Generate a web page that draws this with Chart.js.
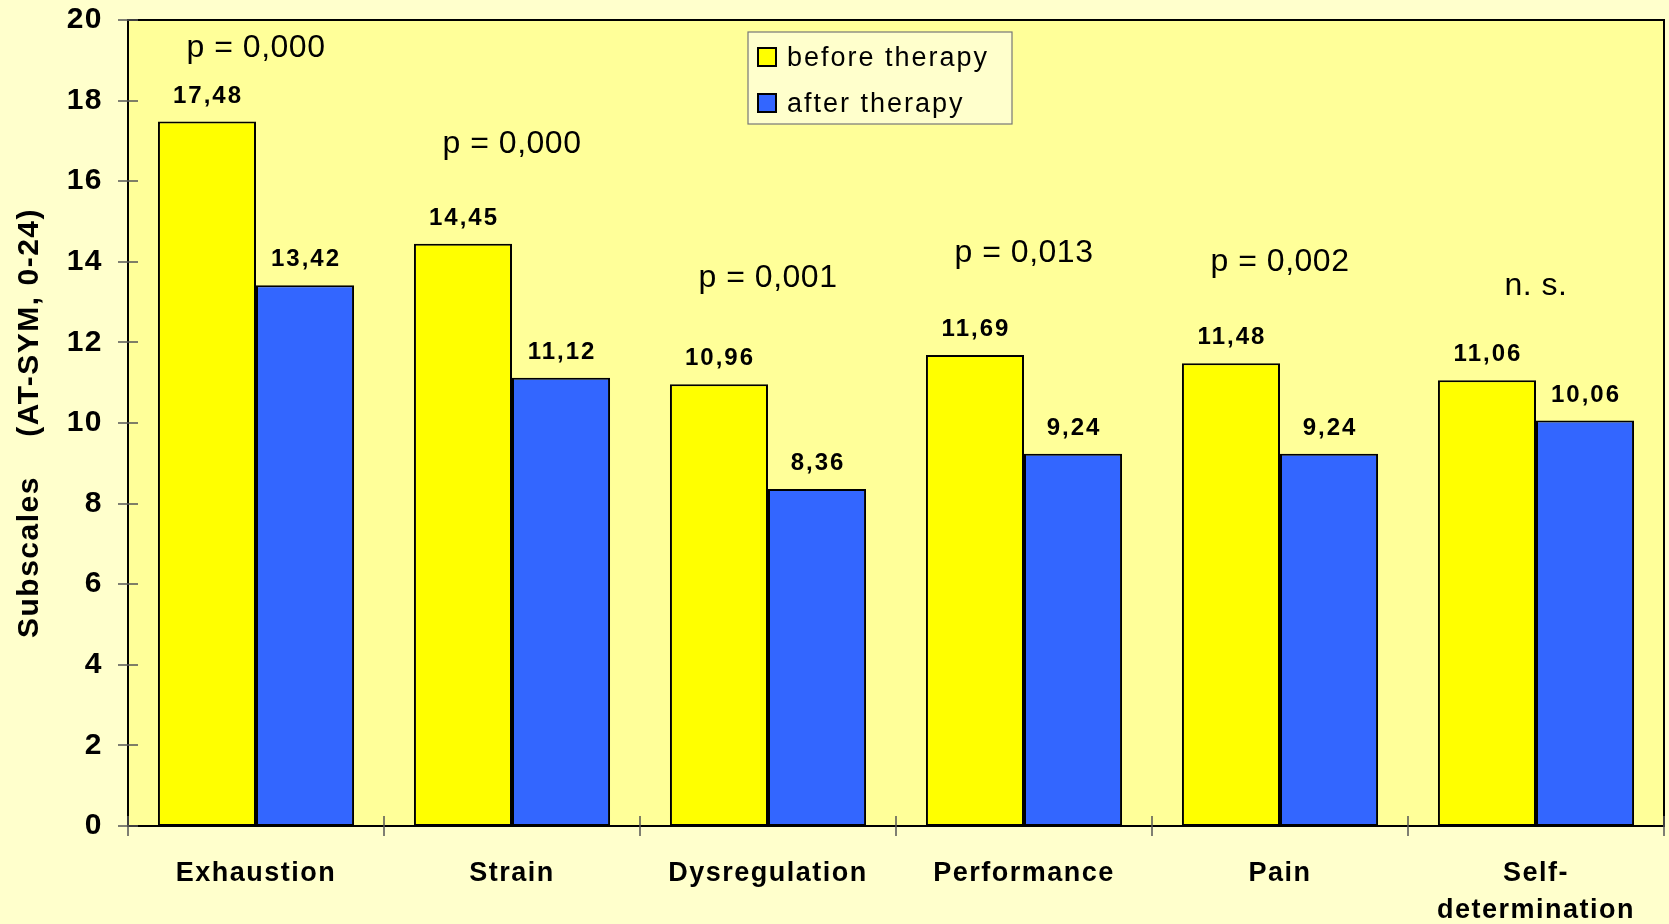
<!DOCTYPE html>
<html>
<head>
<meta charset="utf-8">
<title>AT-SYM subscales</title>
<script src="https://cdn.jsdelivr.net/npm/chart.js@4"></script>
<style>
  body { margin: 0; background: #FFFFCC; }
  #wrap { width: 1669px; height: 924px; }
</style>
</head>
<body>
<div id="wrap"><canvas id="subscalesChart"></canvas></div>
<script>
// Données
const categories = ['Exhaustion', 'Strain', 'Dysregulation', 'Performance', 'Pain', ['Self-', 'determination']];
const beforeTherapy = [17.48, 14.45, 10.96, 11.69, 11.48, 11.06];
const afterTherapy = [13.42, 11.12, 8.36, 9.24, 9.24, 10.06];
const pValues = ['p = 0,000', 'p = 0,000', 'p = 0,001', 'p = 0,013', 'p = 0,002', 'n. s.'];
const pHeights = [19.07, 16.71, 13.37, 14.0, 13.78, 13.18];
const yTicks = [0, 2, 4, 6, 8, 10, 12, 14, 16, 18, 20];

const FONT = "'Liberation Sans', Arial, sans-serif";

// fond de la page + zone du graphique
const fondPlugin = {
    id: 'fond',
    beforeDraw(chart) {
        const { ctx, chartArea: a } = chart;
        ctx.save();
        ctx.fillStyle = '#FFFFCC';
        ctx.fillRect(0, 0, chart.width, chart.height);
        ctx.fillStyle = '#FFFF99';
        ctx.fillRect(a.left, a.top, a.right - a.left, a.bottom - a.top);
        ctx.restore();
        ctx.letterSpacing = '1.5px';
    },
    beforeDatasetsDraw(chart) {
        chart.ctx.letterSpacing = '0px';
    },
    afterDraw(chart) {
        chart.ctx.letterSpacing = '0px';
    }
};

// cadre, graduations, valeurs, p-values et légende
const decorPlugin = {
    id: 'decor',
    afterDatasetsDraw(chart) {
        const { ctx, chartArea: a } = chart;
        const xs = chart.scales.x, ys = chart.scales.y;
        ctx.save();

        // cadre noir
        ctx.strokeStyle = '#000';
        ctx.lineWidth = 2;
        ctx.strokeRect(a.left, a.top, a.right - a.left, a.bottom - a.top);

        // petites graduations qui traversent les axes
        ctx.strokeStyle = '#555';
        ctx.lineWidth = 1.5;
        ctx.beginPath();
        ys.ticks.forEach(t => {
            const py = Math.round(ys.getPixelForValue(t.value));
            ctx.moveTo(a.left - 10, py);
            ctx.lineTo(a.left + 10, py);
        });
        for (let i = 0; i <= categories.length; i++) {
            const px = Math.round(xs.getPixelForValue(i - 0.5));
            ctx.moveTo(px, a.bottom - 10);
            ctx.lineTo(px, a.bottom + 10);
        }
        ctx.stroke();

        // valeurs au-dessus des barres
        ctx.fillStyle = '#000';
        ctx.font = 'bold 24px ' + FONT;
        ctx.letterSpacing = '2px';
        ctx.textAlign = 'center';
        ctx.textBaseline = 'alphabetic';
        chart.data.datasets.forEach((ds, di) => {
            chart.getDatasetMeta(di).data.forEach((bar, i) => {
                const txt = ds.data[i].toFixed(2).replace('.', ',');
                ctx.fillText(txt, bar.x + 1, bar.y - 19);
            });
        });

        // p-values
        ctx.font = '32px ' + FONT;
        ctx.letterSpacing = '0.5px';
        pValues.forEach((txt, i) => {
            ctx.fillText(txt, xs.getPixelForValue(i), ys.getPixelForValue(pHeights[i]));
        });

        // légende
        const lx = a.left + 620, ly = a.top + 12;
        ctx.fillStyle = '#FFFFCC';
        ctx.fillRect(lx, ly, 264, 92);
        ctx.strokeStyle = '#777';
        ctx.lineWidth = 1.2;
        ctx.strokeRect(lx, ly, 264, 92);
        ctx.font = '27px ' + FONT;
        ctx.letterSpacing = '2px';
        ctx.textAlign = 'left';
        chart.data.datasets.forEach((ds, di) => {
            const sy = ly + 16 + di * 46;
            ctx.fillStyle = ds.backgroundColor;
            ctx.fillRect(lx + 10, sy, 18, 18);
            ctx.strokeStyle = '#000';
            ctx.lineWidth = 2;
            ctx.strokeRect(lx + 10, sy, 18, 18);
            ctx.fillStyle = '#000';
            ctx.fillText(ds.label, lx + 39, sy + 18);
        });

        ctx.restore();
    }
};

const ctx = document.getElementById('subscalesChart').getContext('2d');
const subscalesChart = new Chart(ctx, {
    type: 'bar',
    data: {
        labels: categories,
        datasets: [{
            label: 'before therapy',
            data: beforeTherapy,
            backgroundColor: '#FFFF00',
            borderColor: '#000',
            borderWidth: 2,
            borderSkipped: false
        }, {
            label: 'after therapy',
            data: afterTherapy,
            backgroundColor: '#3366FF',
            borderColor: '#000',
            borderWidth: 2,
            borderSkipped: false
        }]
    },
    options: {
        responsive: true,
        maintainAspectRatio: false,
        animation: false,
        categoryPercentage: 0.766,
        barPercentage: 1.0,
        layout: { padding: { top: 20, right: 5, left: 0, bottom: 0 } },
        plugins: {
            legend: { display: false },
            tooltip: { enabled: false }
        },
        scales: {
            x: {
                grid: { display: false, drawTicks: false },
                border: { display: false },
                ticks: {
                    color: '#000',
                    font: { family: FONT, size: 27, weight: 'bold', lineHeight: 1.38 },
                    padding: 29,
                    maxRotation: 0,
                    autoSkip: false
                },
                afterFit(axis) { axis.height = 98; }
            },
            y: {
                min: 0,
                max: 20,
                grid: { display: false, drawTicks: false },
                border: { display: false },
                afterBuildTicks(axis) { axis.ticks = yTicks.map(v => ({ value: v })); },
                ticks: {
                    color: '#000',
                    font: { family: FONT, size: 30, weight: 'bold' },
                    padding: 25
                },
                title: {
                    display: true,
                    text: 'Subscales    (AT-SYM, 0-24)',
                    color: '#000',
                    font: { family: FONT, size: 30, weight: 'bold', lineHeight: 1.1 },
                    padding: { top: 13, bottom: 0 }
                },
                afterFit(axis) {
                    axis.width = 128;
                    axis.paddingTop = 0;
                    axis.paddingBottom = 0;
                }
            }
        }
    },
    plugins: [fondPlugin, decorPlugin]
});
</script>
</body>
</html>
